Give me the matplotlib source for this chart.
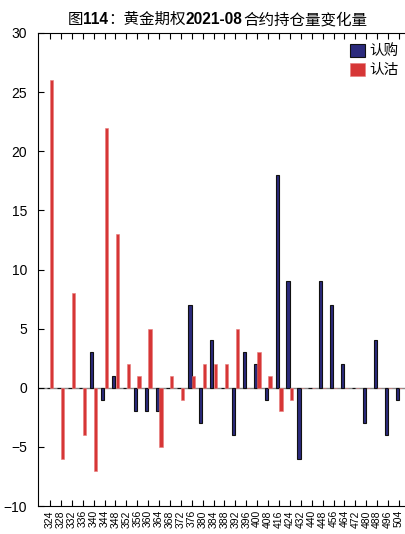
import numpy as np
import matplotlib.pyplot as plt

plt.rcParams['font.family'] = ['Liberation Sans', 'Noto Sans CJK SC', 'DejaVu Sans']

# strike prices and open-interest changes
strikes = ['324', '328', '332', '336', '340', '344', '348', '352', '356', '360',
           '364', '368', '372', '376', '380', '384', '388', '392', '396', '400',
           '408', '416', '424', '432', '440', '448', '456', '464', '472', '480',
           '488', '496', '504']
call_chg = [0, 0, 0, 0, 3, -1, 1, 0, -2, -2,
            -2, 0, 0, 7, -3, 4, 0, -4, 3, 2,
            -1, 18, 9, -6, 0, 9, 7, 2, 0, -3,
            4, -4, -1]
put_chg = [26, -6, 8, -4, -7, 22, 13, 2, 1, 5,
           -5, 1, -1, 1, 2, 2, 2, 5, 0, 3,
           1, -2, -1, 0, 0, 0, 0, 0, 0, 0,
           0, 0, 0]

fig = plt.figure(figsize=(4.06, 5.34), dpi=100)
ax = fig.add_axes([38 / 406, 28 / 534, 373 / 406, 473 / 534])

x = np.arange(len(strikes))
w = 0.3
ax.bar(x - 0.17, call_chg, w, color='#2b2a7c', edgecolor='#111111', linewidth=0.8, label='认购')
ax.bar(x + 0.17, put_chg, w, color='#d63636', edgecolor='#e87a7a', linewidth=0.4, label='认沽')
ax.axhline(0, color='#888888', linewidth=1.0, zorder=0)

ax.set_xlim(-1.1, 33.1)
ax.set_ylim(-10, 30)
ax.set_yticks(np.arange(-10, 31, 5))
ax.set_xticks(x)
ax.set_xticklabels(strikes, rotation=90, fontsize=7.5)
ax.tick_params(axis='y', direction='in', length=4, labelsize=10, pad=8)
ax.tick_params(axis='x', direction='in', length=4, top=True, pad=3)
ax.spines['right'].set_visible(False)
for s in ['left', 'bottom', 'top']:
    ax.spines[s].set_linewidth(0.8)

ax.legend(loc='upper right', bbox_to_anchor=(404 / 406, 1 - 38 / 534),
          bbox_transform=fig.transFigure, frameon=False, fontsize=10.5,
          handlelength=1.0, handleheight=1.0, handletextpad=0.3,
          labelspacing=0.3, borderaxespad=0)

# title: numbers in bold, pieces placed one after another
parts = [('图', 'normal'), ('114', 'bold'), ('：黄金期权', 'normal'),
         ('2021-08', 'bold'), ('合约持仓量变化量', 'normal')]
prev = fig.text(68 / 406, 1 - 27 / 534, parts[0][0], fontsize=11.2,
                fontweight=parts[0][1], va='bottom')
for txt, wt in parts[1:]:
    prev = ax.annotate(txt, xy=(1, 0), xycoords=prev, va='bottom', ha='left',
                       fontsize=11.2, fontweight=wt, annotation_clip=False)

fig.savefig('out.png', dpi=100)
